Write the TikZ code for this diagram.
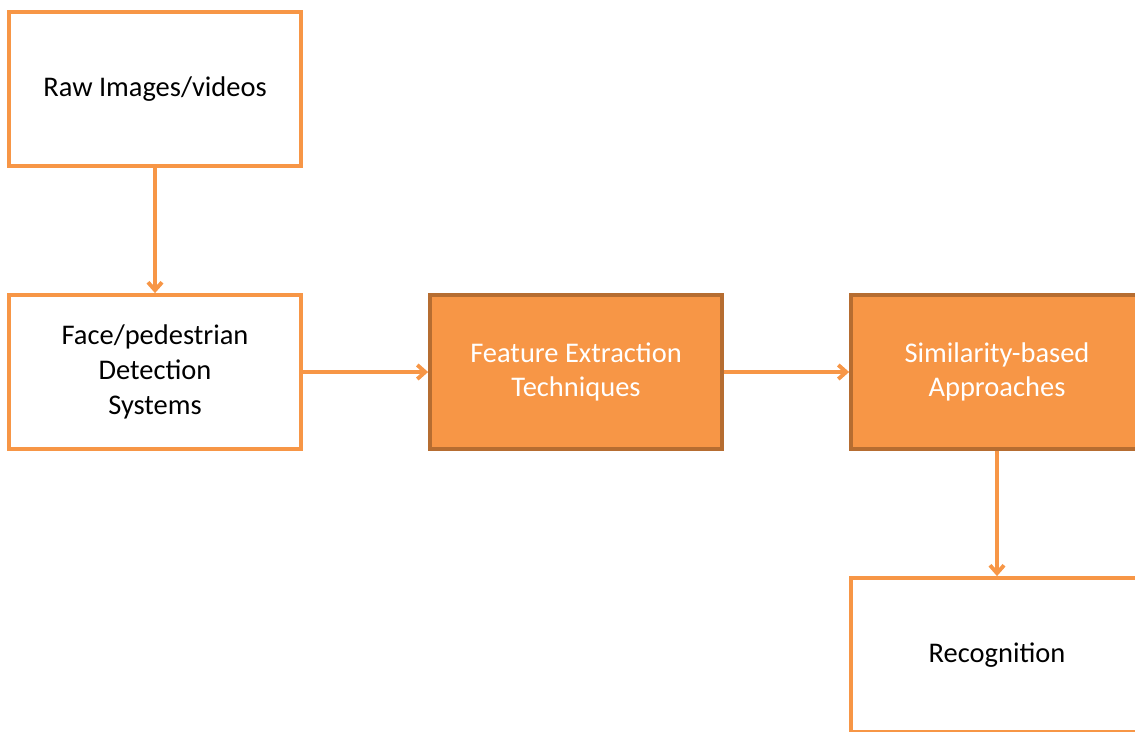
\documentclass[tikz,border=0pt]{standalone}
\usepackage{fontspec}
\setmainfont{Carlito}
\usepackage{tikz}
\usetikzlibrary{arrows.meta,positioning}
\definecolor{accent}{HTML}{F79646}
\definecolor{accentdark}{HTML}{B66D31}

\begin{document}
\begin{tikzpicture}[x=0.02cm,y=-0.02cm,
    plainbox/.style={draw=accent, line width=2.2pt, fill=white, rectangle, minimum width=5.84cm, minimum height=3.08cm, align=center, font=\fontsize{16.2}{19.8}\selectfont},
    fillbox/.style={plainbox, draw=accentdark, fill=accent, text=white},
    flow/.style={-{Straight Barb[length=4.5pt,width=8pt]}, draw=accent, line width=2.2pt}]
        \useasboundingbox (0,0) rectangle (1135,731);
        \clip (0,0) rectangle (1135,731);
        \node[plainbox] (raw) at (155,89) {Raw Images/videos};
        \node[plainbox] (det) at (155,372) {Face/pedestrian\\Detection\\Systems};
        \node[fillbox] (feat) at (576,372) {Feature Extraction\\Techniques};
        \node[fillbox] (sim) at (997,372) {Similarity-based\\Approaches};
        \node[plainbox] (rec) at (997,655) {Recognition};
        \draw[flow] (raw) -- (det);
        \draw[flow] (det) -- (feat);
        \draw[flow] (feat) -- (sim);
        \draw[flow] (sim) -- (rec);
    \end{tikzpicture}
\end{document}
